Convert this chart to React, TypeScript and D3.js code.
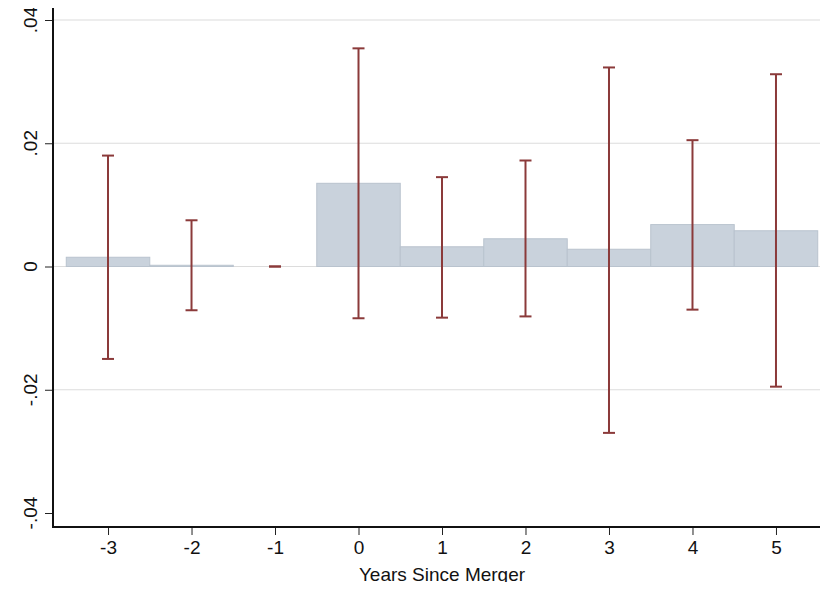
import React, { useRef, useEffect } from 'react'
import * as d3 from 'd3'

const years = [-3, -2, -1, 0, 1, 2, 3, 4, 5]
const estimates = [0.0015, 0.0002, 0, 0.0135, 0.0032, 0.0045, 0.0028, 0.0068, 0.0058]
const upper = [0.018, 0.0075, 0, 0.0354, 0.0145, 0.0172, 0.0323, 0.0205, 0.0312]
const lower = [-0.015, -0.0071, 0, -0.0084, -0.0083, -0.0081, -0.027, -0.007, -0.0195]
const yTicks = [-0.04, -0.02, 0, 0.02, 0.04]

const W = 828
const H = 590

const fmtY = (v: number) => (v === 0 ? '0' : (v < 0 ? '-' : '') + Math.abs(v).toFixed(2).replace(/^0/, ''))

export default function App() {
  const svgRef = useRef<SVGSVGElement>(null)

  useEffect(() => {
    if (!svgRef.current) return
    const svg = d3.select(svgRef.current)
    svg.selectAll('*').remove()

    const x = d3.scaleLinear().domain([-3.659, 5.623]).range([53, 828])
    const y = d3.scaleLinear().domain([-0.04, 0.04]).range([513, 20])
    const bottom = 527
    const font = 'Helvetica, Arial, "Liberation Sans", sans-serif'

    // grid
    svg.append('g').selectAll('line').data(yTicks.filter(t => t !== -0.04)).enter().append('line')
      .attr('x1', 53).attr('x2', 828)
      .attr('y1', d => y(d)).attr('y2', d => y(d))
      .attr('stroke', '#dcdcdc').attr('stroke-width', 1.2)

    // bars
    svg.append('g').selectAll('rect').data(years).enter().append('rect')
      .attr('x', d => x(d - 0.5))
      .attr('width', d => x(d + 0.5) - x(d - 0.5))
      .attr('y', (d, i) => y(Math.max(0, estimates[i])))
      .attr('height', (d, i) => Math.abs(y(0) - y(estimates[i])))
      .attr('fill', '#c9d2dc').attr('stroke', '#b9c3ce').attr('stroke-width', 1)

    // error bars
    const eb = svg.append('g').attr('stroke', '#8b3a3a').attr('stroke-width', 2)
    years.forEach((yr, i) => {
      const cx = x(yr)
      eb.append('line').attr('x1', cx).attr('x2', cx).attr('y1', y(upper[i])).attr('y2', y(lower[i]))
      ;[upper[i], lower[i]].forEach(v => {
        eb.append('line').attr('x1', cx - 6).attr('x2', cx + 6).attr('y1', y(v)).attr('y2', y(v))
      })
    })

    // y axis
    const yAxis = svg.append('g').attr('transform', 'translate(53,0)')
      .call(d3.axisLeft(y).tickValues(yTicks).tickSize(8).tickFormat(() => ''))
    yAxis.select('.domain').remove()
    yAxis.selectAll('line').attr('stroke', '#222')
    yAxis.selectAll('.ylab').data(yTicks).enter().append('text')
      .attr('transform', d => `translate(-16,${y(d)}) rotate(-90)`)
      .attr('text-anchor', 'middle')
      .attr('font-family', font).attr('font-size', 19).attr('fill', '#111')
      .text(d => fmtY(d))

    // x axis
    const xAxis = svg.append('g').attr('transform', `translate(0,${bottom})`)
      .call(d3.axisBottom(x).tickValues(years).tickSize(8).tickPadding(6).tickFormat(d => String(d)))
    xAxis.select('.domain').remove()
    xAxis.selectAll('line').attr('stroke', '#222')
    xAxis.selectAll('text').attr('font-family', font).attr('font-size', 19).attr('fill', '#111')

    svg.append('line').attr('x1', 53).attr('x2', 53).attr('y1', 0).attr('y2', bottom + 1)
      .attr('stroke', '#111').attr('stroke-width', 2)
    svg.append('line').attr('x1', 52).attr('x2', 828).attr('y1', bottom).attr('y2', bottom)
      .attr('stroke', '#111').attr('stroke-width', 2)

    svg.append('text').attr('x', 442).attr('y', 581)
      .attr('text-anchor', 'middle').attr('font-family', font).attr('font-size', 19).attr('fill', '#111')
      .text('Years Since Merger')
  }, [])

  return (
    <svg ref={svgRef} width={W} height={H}
      style={{ display: 'block', margin: -8, background: 'white' }} />
  )
}
